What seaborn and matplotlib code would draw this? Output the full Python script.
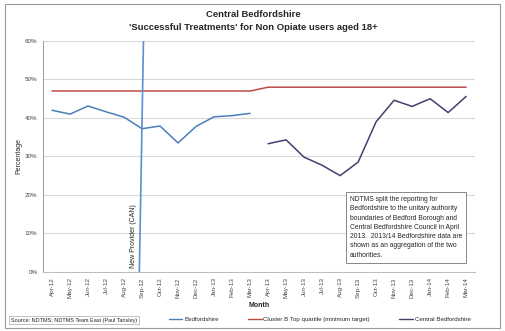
import matplotlib
matplotlib.use("Agg")
import matplotlib.pyplot as plt
import seaborn as sns
import numpy as np
import pandas as pd
from matplotlib.lines import Line2D
from matplotlib.patches import Rectangle

months = ["Apr-12", "May-12", "Jun-12", "Jul-12", "Aug-12", "Sep-12", "Oct-12", "Nov-12",
          "Dec-12", "Jan-13", "Feb-13", "Mar-13", "Apr-13", "May-13", "Jun-13", "Jul-13",
          "Aug-13", "Sep-13", "Oct-13", "Nov-13", "Dec-13", "Jan-14", "Feb-14", "Mar-14"]
bedfordshire = [42.0, 41.0, 43.1, 41.6, 40.2, 37.2, 37.9, 33.5, 37.8, 40.3, 40.6, 41.2] + [np.nan] * 12
target = [47.0] * 12 + [48.0] * 12
central = [np.nan] * 12 + [33.3, 34.3, 29.8, 27.7, 25.0, 28.5, 39.0, 44.6, 43.0, 45.0, 41.4, 45.6]
provider_x = [4.85, 5.08]
provider_y = [0, 60]
yticks = [0, 10, 20, 30, 40, 50, 60]

df = pd.DataFrame({"idx": np.arange(len(months)), "month": months,
                   "Bedfordshire": bedfordshire, "Target": target, "Central": central})

sns.set_theme(style="white")
plt.rcParams['font.family'] = ['Liberation Sans', 'DejaVu Sans']

fig = plt.figure(figsize=(5.06, 3.31), dpi=100)
ax = fig.add_axes([0.085, 0.179, 0.854, 0.697])

c_blue = "#4A7EBB"
c_red = "#BE4B48"
c_purple = "#4B3B6E"
c_prov = "#5B8FD0"

sns.lineplot(data=df, x="idx", y="Bedfordshire", ax=ax, color=c_blue, linewidth=1.1)
sns.lineplot(data=df, x="idx", y="Target", ax=ax, color=c_red, linewidth=1.1)
sns.lineplot(data=df, x="idx", y="Central", ax=ax, color=c_purple, linewidth=1.1)
ax.plot(provider_x, provider_y, color=c_prov, linewidth=1.2)

ax.set_xlim(-0.5, len(months) - 0.5)
ax.set_ylim(0, 60)
ax.set_yticks(yticks)
ax.set_yticklabels([f"{v}%" for v in yticks], fontsize=4.5, color="#444444")
ax.set_xticks(np.arange(len(months)))
ax.set_xticklabels(months, rotation=90, fontsize=4.5, color="#444444")
ax.tick_params(axis="both", length=2, pad=2, color="#999999")
ax.grid(axis="y", color="#D9D9D9", linewidth=0.8)
ax.grid(axis="x", visible=False)
for s in ["top", "right"]:
    ax.spines[s].set_visible(False)
ax.spines["left"].set_color("#999999")
ax.spines["bottom"].set_color("#BBBBBB")
ax.spines["left"].set_linewidth(0.7)
ax.spines["bottom"].set_linewidth(0.7)

ax.set_xlabel("Month", fontsize=5, fontweight="bold", labelpad=3)
ax.set_ylabel("Percentage", fontsize=5, labelpad=2)

ax.text(4.55, 1, "New Provider (CAN)", rotation=90, fontsize=5, ha="center", va="bottom")

ax.text(16.55, 3.4,
        "NDTMS split the reporting for\nBedfordshire to the unitary authority\n"
        "boundaries of Bedford Borough and\nCentral Bedfordshire Council in April\n"
        "2013.  2013/14 Bedfordshire data are\nshown as an aggregation of the two\nauthorities.",
        fontsize=4.9, ha="left", va="bottom", linespacing=1.45,
        bbox=dict(boxstyle="square,pad=0.6", facecolor="white", edgecolor="#888888", linewidth=0.7))

fig.text(0.5, 0.955, "Central Bedfordshire", ha="center", va="center", fontsize=6.8, fontweight="bold")
fig.text(0.5, 0.918, "'Successful Treatments' for Non Opiate users aged 18+", ha="center",
         va="center", fontsize=6.8, fontweight="bold")

fig.text(0.022, 0.033, "Source: NDTMS; NDTMS Team East (Paul Tansley)", fontsize=4.0, ha="left",
         va="center", bbox=dict(boxstyle="square,pad=0.3", facecolor="white", edgecolor="#AAAAAA", linewidth=0.5))

handles = [Line2D([], [], color=c_blue, linewidth=1.0),
           Line2D([], [], color=c_red, linewidth=1.0),
           Line2D([], [], color=c_purple, linewidth=1.0)]
labels = ["Bedfordshire", "Cluster B Top quartile (minimum target)", "Central Bedfordshire"]
fig.legend(handles, labels, loc="center", bbox_to_anchor=(0.632, 0.035), ncol=3, frameon=False,
           fontsize=4.4, handlelength=2.2, handletextpad=0.3, columnspacing=4.8)

fig.patches.append(Rectangle((0.01, 0.01), 0.978, 0.978, transform=fig.transFigure,
                             fill=False, edgecolor="#999999", linewidth=0.8))

fig.savefig("out.png", dpi=100)
